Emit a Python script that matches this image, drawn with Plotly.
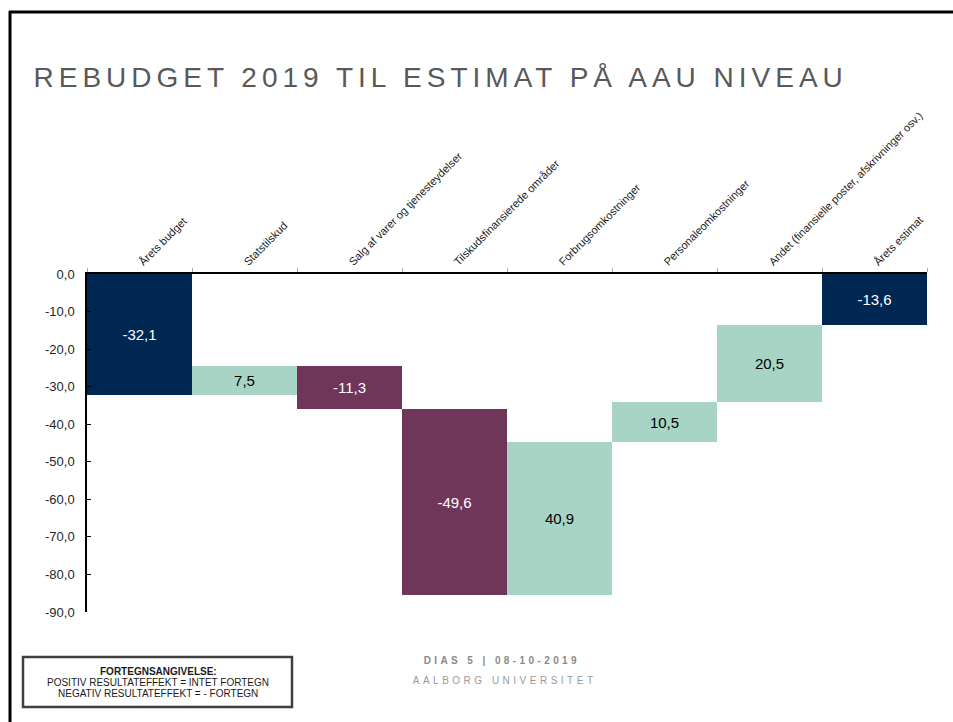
import plotly.graph_objects as go

# ---- data ----
categories = ["Årets budget", "Statstilskud", "Salg af varer og tjenesteydelser",
              "Tilskudsfinansierede områder", "Forbrugsomkostninger",
              "Personaleomkostninger", "Andet (finansielle poster, afskrivninger osv.)",
              "Årets estimat"]
values = [-32.1, 7.5, -11.3, -49.6, 40.9, 10.5, 20.5, None]
measures = ["absolute", "relative", "relative", "relative", "relative",
            "relative", "relative", "total"]
y_ticks = [0, -10, -20, -30, -40, -50, -60, -70, -80, -90]
legend_lines = ["<b>FORTEGNSANGIVELSE:</b>",
                "POSITIV RESULTATEFFEKT = INTET FORTEGN",
                "NEGATIV RESULTATEFFEKT = - FORTEGN"]

# ---- derived ----
total = round(sum(v for v in values if v is not None), 1)
fmt = lambda v: f"{v:.1f}".replace(".", ",")
texts = [fmt(v) if v is not None else fmt(total) for v in values]
ys = [v if v is not None else 0 for v in values]

NAVY = "#002652"
MINT = "#A8D4C5"
PLUM = "#6F3659"

txt_colors = []
for m, v in zip(measures, ys):
    if m in ("absolute", "total") or v < 0:
        txt_colors.append("white")
    else:
        txt_colors.append("black")

W, H = 953, 722
L, R, T, B = 87, 927, 274, 612


def xp(px):
    return (px - L) / (R - L)


def yp(py):
    return (B - py) / (B - T)


FONT = "Liberation Sans, Arial"

fig = go.Figure(go.Waterfall(
    x=categories,
    y=ys,
    measure=measures,
    text=texts,
    textposition="inside",
    insidetextanchor="middle",
    textangle=0,
    constraintext="none",
    textfont=dict(color=txt_colors, size=15, family=FONT),
    increasing=dict(marker=dict(color=MINT, line=dict(width=0))),
    decreasing=dict(marker=dict(color=PLUM, line=dict(width=0))),
    totals=dict(marker=dict(color=NAVY, line=dict(width=0))),
    connector=dict(visible=False),
    hoverinfo="skip",
))

shapes = [
    # page frame
    dict(type="line", xref="paper", yref="paper", x0=xp(9), x1=xp(953), y0=yp(12), y1=yp(12),
         line=dict(color="black", width=3)),
    dict(type="line", xref="paper", yref="paper", x0=xp(10), x1=xp(10), y0=yp(11), y1=yp(722),
         line=dict(color="black", width=3)),
    # sign legend box
    dict(type="rect", xref="paper", yref="paper", x0=xp(23), x1=xp(292), y0=yp(657), y1=yp(707),
         line=dict(color="#404040", width=2.5), fillcolor="white"),
]

annotations = [
    dict(text="REBUDGET 2019 TIL ESTIMAT PÅ AAU NIVEAU", xref="paper", yref="paper",
         x=xp(440), y=yp(78), xanchor="center", yanchor="middle", showarrow=False,
         font=dict(family=FONT, size=28, color="#595959")),
    dict(text="<b>DIAS 5 | 08-10-2019</b>", xref="paper", yref="paper",
         x=xp(502), y=yp(660), xanchor="center", yanchor="middle", showarrow=False,
         font=dict(family=FONT, size=10, color="#8a8a8a")),
    dict(text="AALBORG UNIVERSITET", xref="paper", yref="paper",
         x=xp(504), y=yp(680), xanchor="center", yanchor="middle", showarrow=False,
         font=dict(family=FONT, size=10, color="#9a9a9a")),
]
for line, py in zip(legend_lines, [671, 682, 693]):
    annotations.append(dict(
        text=line, xref="paper", yref="paper", x=xp(158), y=yp(py),
        xanchor="center", yanchor="middle", showarrow=False,
        font=dict(family=FONT, size=10, color="#1a1a1a")))

fig.update_layout(
    width=W, height=H,
    margin=dict(l=L, r=W - R, t=T, b=H - B, pad=0),
    paper_bgcolor="white", plot_bgcolor="white",
    waterfallgap=0,
    showlegend=False,
    shapes=shapes,
    annotations=annotations,
    font=dict(family=FONT, color="#1a1a1a"),
    xaxis=dict(
        type="category", side="top", tickangle=-45,
        tickson="boundaries", ticks="outside", ticklen=4, tickcolor="#aaaaaa",
        showline=True, linecolor="black", linewidth=1.5,
        showgrid=False, zeroline=False,
        tickfont=dict(size=11, color="#1a1a1a"),
        fixedrange=True,
    ),
    yaxis=dict(
        range=[-90, 0], tickvals=y_ticks, ticktext=[fmt(v) for v in y_ticks],
        ticks="inside", ticklen=4, tickcolor="black",
        showline=True, linecolor="black", linewidth=1.5,
        showgrid=False, zeroline=False,
        ticklabelstandoff=8,
        tickfont=dict(size=13, color="#262626"),
        fixedrange=True,
    ),
)

post = """
document.body.style.margin = '0';
document.body.style.overflow = 'hidden';
var spacing = ['5px', '3.4px', '3.5px'];
var els = document.querySelectorAll('.annotation-text');
els.forEach(function(el, i) {
    if (i < spacing.length) { el.style.letterSpacing = spacing[i]; }
});
"""

fig.write_html("out.html", config={"displayModeBar": False}, post_script=post)
